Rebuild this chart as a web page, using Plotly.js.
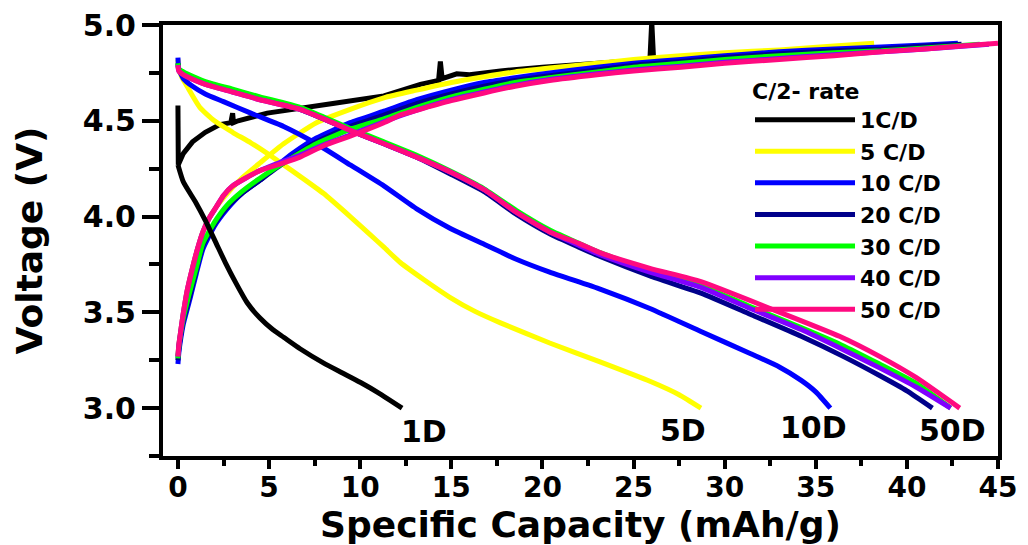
<!DOCTYPE html>
<html>
<head>
<meta charset="utf-8">
<script src="https://cdn.plot.ly/plotly-3.0.1.min.js"></script>
<style>
  html, body { margin: 0; padding: 0; background: #ffffff; }
  #chart { width: 1028px; height: 545px; }
</style>
</head>
<body>
<div id="chart"></div>
<script>
// ---------------- data ----------------
const seriesNames = ["1C/D", "5 C/D", "10 C/D", "20 C/D", "30 C/D", "40 C/D", "50 C/D"];
const seriesColors = ["#000000", "#FFFF00", "#0000FF", "#00008B", "#00FF00", "#8000FF", "#FF0A80"];

// 1C/D
const c1ChargeX = [0, 0, 0.02, 0.3, 0.8, 1.5, 2.3, 2.9, 3.0, 3.05, 3.3, 4.9, 6.5, 8.5, 11.3, 12.2, 13.3, 14.3, 14.4, 14.5, 15.3, 16.0, 17.7, 20.0, 23.0, 25.9, 26.0, 26.1, 30.0, 34.0, 38.0];
const c1ChargeY = [4.58, 4.45, 4.27, 4.33, 4.39, 4.44, 4.48, 4.49, 4.54, 4.49, 4.50, 4.54, 4.56, 4.59, 4.63, 4.66, 4.69, 4.71, 4.81, 4.72, 4.745, 4.74, 4.76, 4.78, 4.80, 4.82, 5.02, 4.82, 4.85, 4.87, 4.89];
const c1DischX = [0, 0.3, 1.0, 1.5, 2.1, 2.6, 3.2, 3.8, 4.5, 5.2, 5.8, 6.7, 8.0, 9.0, 10.0, 11.0, 12.3];
const c1DischY = [4.27, 4.18, 4.07, 3.98, 3.86, 3.76, 3.65, 3.55, 3.47, 3.41, 3.37, 3.31, 3.235, 3.185, 3.135, 3.08, 3.0];

// 5 C/D
const c5ChargeX = [0, 0.05, 0.15, 0.27, 0.5, 0.82, 1.1, 1.37, 1.7, 2.1, 2.7, 3.5, 4.5, 5.8, 7.6, 9.45, 11.3, 13.1, 15.0, 16.8, 18.5, 20.4, 23.0, 25.0, 27.6, 30.0, 33.0, 36.0, 38.2];
const c5ChargeY = [3.27, 3.33, 3.40, 3.48, 3.61, 3.74, 3.84, 3.92, 3.99, 4.05, 4.12, 4.20, 4.28, 4.38, 4.49, 4.56, 4.62, 4.66, 4.70, 4.73, 4.755, 4.775, 4.80, 4.82, 4.84, 4.855, 4.87, 4.89, 4.905];
const c5DischX = [0, 0.05, 0.2, 0.5, 1.2, 2.0, 3.0, 4.0, 4.9, 5.8, 6.7, 8.0, 9.45, 10.5, 11.3, 12.2, 13.5, 14.9, 16.3, 17.7, 20.4, 23.2, 25.9, 27.5, 28.7];
const c5DischY = [4.82, 4.77, 4.73, 4.68, 4.57, 4.50, 4.44, 4.385, 4.33, 4.27, 4.21, 4.12, 4.00, 3.91, 3.84, 3.76, 3.67, 3.58, 3.505, 3.445, 3.34, 3.24, 3.14, 3.07, 3.0];

// 10 C/D
const c10ChargeX = [0, 0.05, 0.15, 0.3, 0.66, 1.0, 1.37, 2.0, 2.7, 3.5, 4.5, 5.5, 6.3, 7.6, 9.45, 11.3, 13.1, 15.0, 16.8, 18.5, 20.4, 23.0, 25.0, 27.6, 30.0, 33.0, 36.0, 38.6, 41.0, 42.8];
const c10ChargeY = [3.23, 3.29, 3.36, 3.44, 3.57, 3.70, 3.83, 3.95, 4.04, 4.12, 4.19, 4.27, 4.33, 4.41, 4.49, 4.55, 4.61, 4.66, 4.70, 4.725, 4.75, 4.78, 4.80, 4.82, 4.84, 4.86, 4.875, 4.885, 4.895, 4.905];
const c10DischX = [0, 0.05, 0.3, 0.8, 1.5, 2.5, 4.0, 5.8, 7.6, 9.45, 11.3, 13.1, 14.9, 16.8, 18.5, 20.4, 23.2, 25.9, 28.7, 31.4, 33.0, 34.2, 35.0, 35.8];
const c10DischY = [4.83, 4.77, 4.72, 4.68, 4.64, 4.60, 4.54, 4.47, 4.38, 4.27, 4.16, 4.04, 3.94, 3.855, 3.78, 3.71, 3.62, 3.52, 3.40, 3.285, 3.215, 3.145, 3.085, 3.0];

// 20 C/D
const c20ChargeX = [0, 0.05, 0.15, 0.3, 0.66, 1.0, 1.37, 2.0, 2.7, 3.5, 4.5, 5.8, 7.6, 9.45, 11.3, 13.1, 15.0, 16.8, 18.5, 20.4, 23.0, 25.0, 27.6, 30.0, 33.0, 36.0, 38.6, 41.0, 43.0];
const c20ChargeY = [3.25, 3.31, 3.38, 3.46, 3.59, 3.72, 3.85, 3.96, 4.05, 4.12, 4.19, 4.28, 4.39, 4.47, 4.53, 4.59, 4.64, 4.68, 4.71, 4.735, 4.765, 4.79, 4.81, 4.83, 4.85, 4.865, 4.875, 4.89, 4.90];
const c20DischX = [0, 0.05, 0.3, 0.5, 1.5, 3.0, 4.5, 6.7, 8.0, 9.45, 11.3, 13.1, 15.0, 16.8, 18.6, 20.4, 22.0, 23.2, 25.9, 28.7, 31.4, 34.2, 36.5, 38.5, 40.0, 41.4];
const c20DischY = [4.80, 4.77, 4.75, 4.74, 4.70, 4.66, 4.62, 4.56, 4.51, 4.45, 4.38, 4.31, 4.22, 4.13, 4.01, 3.91, 3.84, 3.79, 3.69, 3.60, 3.49, 3.375, 3.27, 3.17, 3.09, 3.0];

// 30 C/D
const c30ChargeX = [0, 0.05, 0.15, 0.3, 0.6, 1.0, 1.37, 2.0, 2.7, 3.5, 4.5, 5.8, 7.6, 9.45, 11.3, 13.1, 15.0, 16.8, 18.5, 20.4, 23.0, 25.0, 27.6, 30.0, 33.0, 36.0, 38.6, 41.0, 44.0];
const c30ChargeY = [3.26, 3.32, 3.39, 3.47, 3.59, 3.73, 3.86, 3.97, 4.06, 4.13, 4.20, 4.28, 4.38, 4.455, 4.51, 4.57, 4.625, 4.665, 4.70, 4.725, 4.755, 4.78, 4.80, 4.82, 4.84, 4.855, 4.865, 4.88, 4.90];
const c30DischX = [0, 0.05, 0.3, 0.5, 1.5, 3.0, 4.5, 6.7, 8.0, 9.45, 11.3, 13.1, 15.0, 16.8, 18.6, 20.4, 22.0, 23.2, 25.9, 28.7, 31.4, 34.2, 36.4, 38.5, 40.5, 42.4];
const c30DischY = [4.80, 4.77, 4.755, 4.745, 4.705, 4.665, 4.625, 4.57, 4.52, 4.46, 4.39, 4.32, 4.235, 4.145, 4.03, 3.93, 3.86, 3.81, 3.72, 3.64, 3.53, 3.42, 3.33, 3.23, 3.13, 3.0];

// 40 C/D
const c40ChargeX = [0, 0.05, 0.15, 0.27, 0.5, 0.82, 1.1, 1.37, 1.7, 2.1, 2.5, 3.0, 3.7, 4.5, 5.8, 6.7, 8.0, 9.45, 11.3, 13.1, 15.0, 16.8, 18.5, 20.4, 23.0, 25.0, 27.6, 30.0, 33.0, 36.0, 38.6, 41.0, 44.5];
const c40ChargeY = [3.27, 3.33, 3.40, 3.48, 3.61, 3.74, 3.84, 3.92, 3.99, 4.05, 4.11, 4.16, 4.20, 4.24, 4.29, 4.32, 4.375, 4.425, 4.495, 4.555, 4.61, 4.65, 4.685, 4.715, 4.745, 4.765, 4.785, 4.805, 4.825, 4.845, 4.86, 4.875, 4.90];
const c40DischX = [0, 0.05, 0.3, 0.5, 1.5, 3.0, 4.5, 6.7, 8.0, 9.45, 11.3, 13.1, 15.0, 16.8, 18.6, 20.4, 22.0, 23.2, 25.9, 28.7, 31.4, 34.2, 36.4, 38.5, 40.5, 42.4];
const c40DischY = [4.79, 4.76, 4.74, 4.73, 4.69, 4.65, 4.61, 4.56, 4.51, 4.45, 4.38, 4.31, 4.23, 4.14, 4.02, 3.92, 3.85, 3.80, 3.71, 3.63, 3.52, 3.41, 3.31, 3.21, 3.11, 3.0];

// 50 C/D
const c50ChargeX = [0, 0.05, 0.15, 0.27, 0.5, 0.82, 1.1, 1.37, 1.7, 2.1, 2.5, 3.0, 3.7, 4.5, 5.8, 6.7, 8.0, 9.45, 11.3, 12.2, 13.1, 15.0, 16.8, 18.5, 20.4, 23.0, 25.0, 27.6, 30.0, 33.0, 36.0, 38.6, 41.0, 43.0, 45.0];
const c50ChargeY = [3.27, 3.33, 3.40, 3.48, 3.61, 3.74, 3.84, 3.92, 3.99, 4.05, 4.11, 4.16, 4.20, 4.24, 4.28, 4.31, 4.37, 4.42, 4.49, 4.53, 4.555, 4.605, 4.645, 4.68, 4.71, 4.74, 4.76, 4.78, 4.80, 4.82, 4.84, 4.86, 4.875, 4.89, 4.905];
const c50DischX = [0, 0.05, 0.3, 0.5, 1.5, 3.0, 4.5, 6.7, 8.0, 9.45, 11.3, 13.1, 15.0, 16.8, 18.6, 20.4, 22.0, 23.2, 25.9, 28.7, 32.5, 36.3, 38.5, 40.5, 42.9];
const c50DischY = [4.79, 4.76, 4.74, 4.73, 4.69, 4.65, 4.61, 4.56, 4.51, 4.45, 4.38, 4.31, 4.23, 4.14, 4.02, 3.92, 3.86, 3.81, 3.73, 3.66, 3.52, 3.375, 3.27, 3.16, 3.0];

const endLabels = ["1D", "5D", "10D", "50D"];
const endLabelX = [13.5, 27.7, 34.9, 42.5];
const endLabelY = [2.88, 2.885, 2.90, 2.885];

const xTickVals = [0, 5, 10, 15, 20, 25, 30, 35, 40, 45];
const yTickVals = [3.0, 3.5, 4.0, 4.5, 5.0];
const yTickText = ["3.0", "3.5", "4.0", "4.5", "5.0"];

// ---------------- traces ----------------
const FONT = "DejaVu Sans, Liberation Sans, Arial, sans-serif";
const LW = 5;
function line(x, y, i, show) {
  return {
    type: "scatter", mode: "lines", x: x, y: y,
    name: seriesNames[i], legendgroup: seriesNames[i], showlegend: show,
    line: { color: seriesColors[i], width: LW, shape: "spline", smoothing: 0.5 },
    hoverinfo: "x+y+name"
  };
}
function rawline(x, y, i, show) {
  return {
    type: "scatter", mode: "lines", x: x, y: y,
    name: seriesNames[i], legendgroup: seriesNames[i], showlegend: show,
    line: { color: seriesColors[i], width: LW },
    hoverinfo: "x+y+name"
  };
}

const data = [
  rawline(c1ChargeX, c1ChargeY, 0, true),
  line(c5ChargeX, c5ChargeY, 1, true), line(c5DischX, c5DischY, 1, false),
  line(c10ChargeX, c10ChargeY, 2, true), line(c10DischX, c10DischY, 2, false),
  line(c20ChargeX, c20ChargeY, 3, true), line(c20DischX, c20DischY, 3, false),
  line(c30ChargeX, c30ChargeY, 4, true), line(c30DischX, c30DischY, 4, false),
  line(c40ChargeX, c40ChargeY, 5, true), line(c40DischX, c40DischY, 5, false),
  line(c50ChargeX, c50ChargeY, 6, true), line(c50DischX, c50DischY, 6, false),
  line(c1DischX, c1DischY, 0, false)
];

const annotations = endLabels.map((t, i) => ({
  x: endLabelX[i], y: endLabelY[i], xref: "x", yref: "y",
  text: t, showarrow: false,
  font: { family: FONT, size: 30, color: "#000", weight: "bold" }
}));

const layout = {
  width: 1028, height: 545,
  margin: { l: 163, r: 30, t: 25, b: 89, pad: 0 },
  paper_bgcolor: "#ffffff", plot_bgcolor: "#ffffff",
  showlegend: true,
  legend: {
    x: 0.703, y: 0.895, xanchor: "left", yanchor: "top",
    bgcolor: "rgba(0,0,0,0)", borderwidth: 0,
    font: { family: FONT, size: 22, color: "#000", weight: "bold" },
    title: { text: "C/2- rate", font: { family: FONT, size: 22, color: "#000", weight: "bold" } },
    itemwidth: 100, tracegroupgap: 0, traceorder: "normal"
  },
  xaxis: {
    range: [-0.82, 45], tickmode: "array", tickvals: xTickVals,
    ticks: "outside", ticklen: 9, tickwidth: 4, tickcolor: "#000",
    ticklabelstandoff: -6,
    minor: { dtick: 2.5, tick0: 0, ticks: "outside", ticklen: 6, tickwidth: 4, tickcolor: "#000", showgrid: false },
    showline: true, linewidth: 4, linecolor: "#000", mirror: true,
    showgrid: false, zeroline: false,
    tickfont: { family: FONT, size: 28, color: "#000", weight: "bold" },
    title: { text: "Specific Capacity (mAh/g)", standoff: 2,
             font: { family: FONT, size: 36, color: "#000", weight: "bold" } }
  },
  yaxis: {
    range: [2.75, 5.0], tickmode: "array", tickvals: yTickVals, ticktext: yTickText,
    ticks: "outside", ticklen: 17, tickwidth: 4, tickcolor: "#000",
    minor: { dtick: 0.25, tick0: 0, ticks: "outside", ticklen: 10, tickwidth: 4, tickcolor: "#000", showgrid: false },
    showline: true, linewidth: 4, linecolor: "#000", mirror: true,
    showgrid: false, zeroline: false,
    tickfont: { family: FONT, size: 30, color: "#000", weight: "bold" },
    title: { text: "Voltage (V)", standoff: 30,
             font: { family: FONT, size: 36, color: "#000", weight: "bold" } }
  },
  annotations: annotations
};

Plotly.newPlot("chart", data, layout, { displayModeBar: false, staticPlot: true });
</script>
</body>
</html>
